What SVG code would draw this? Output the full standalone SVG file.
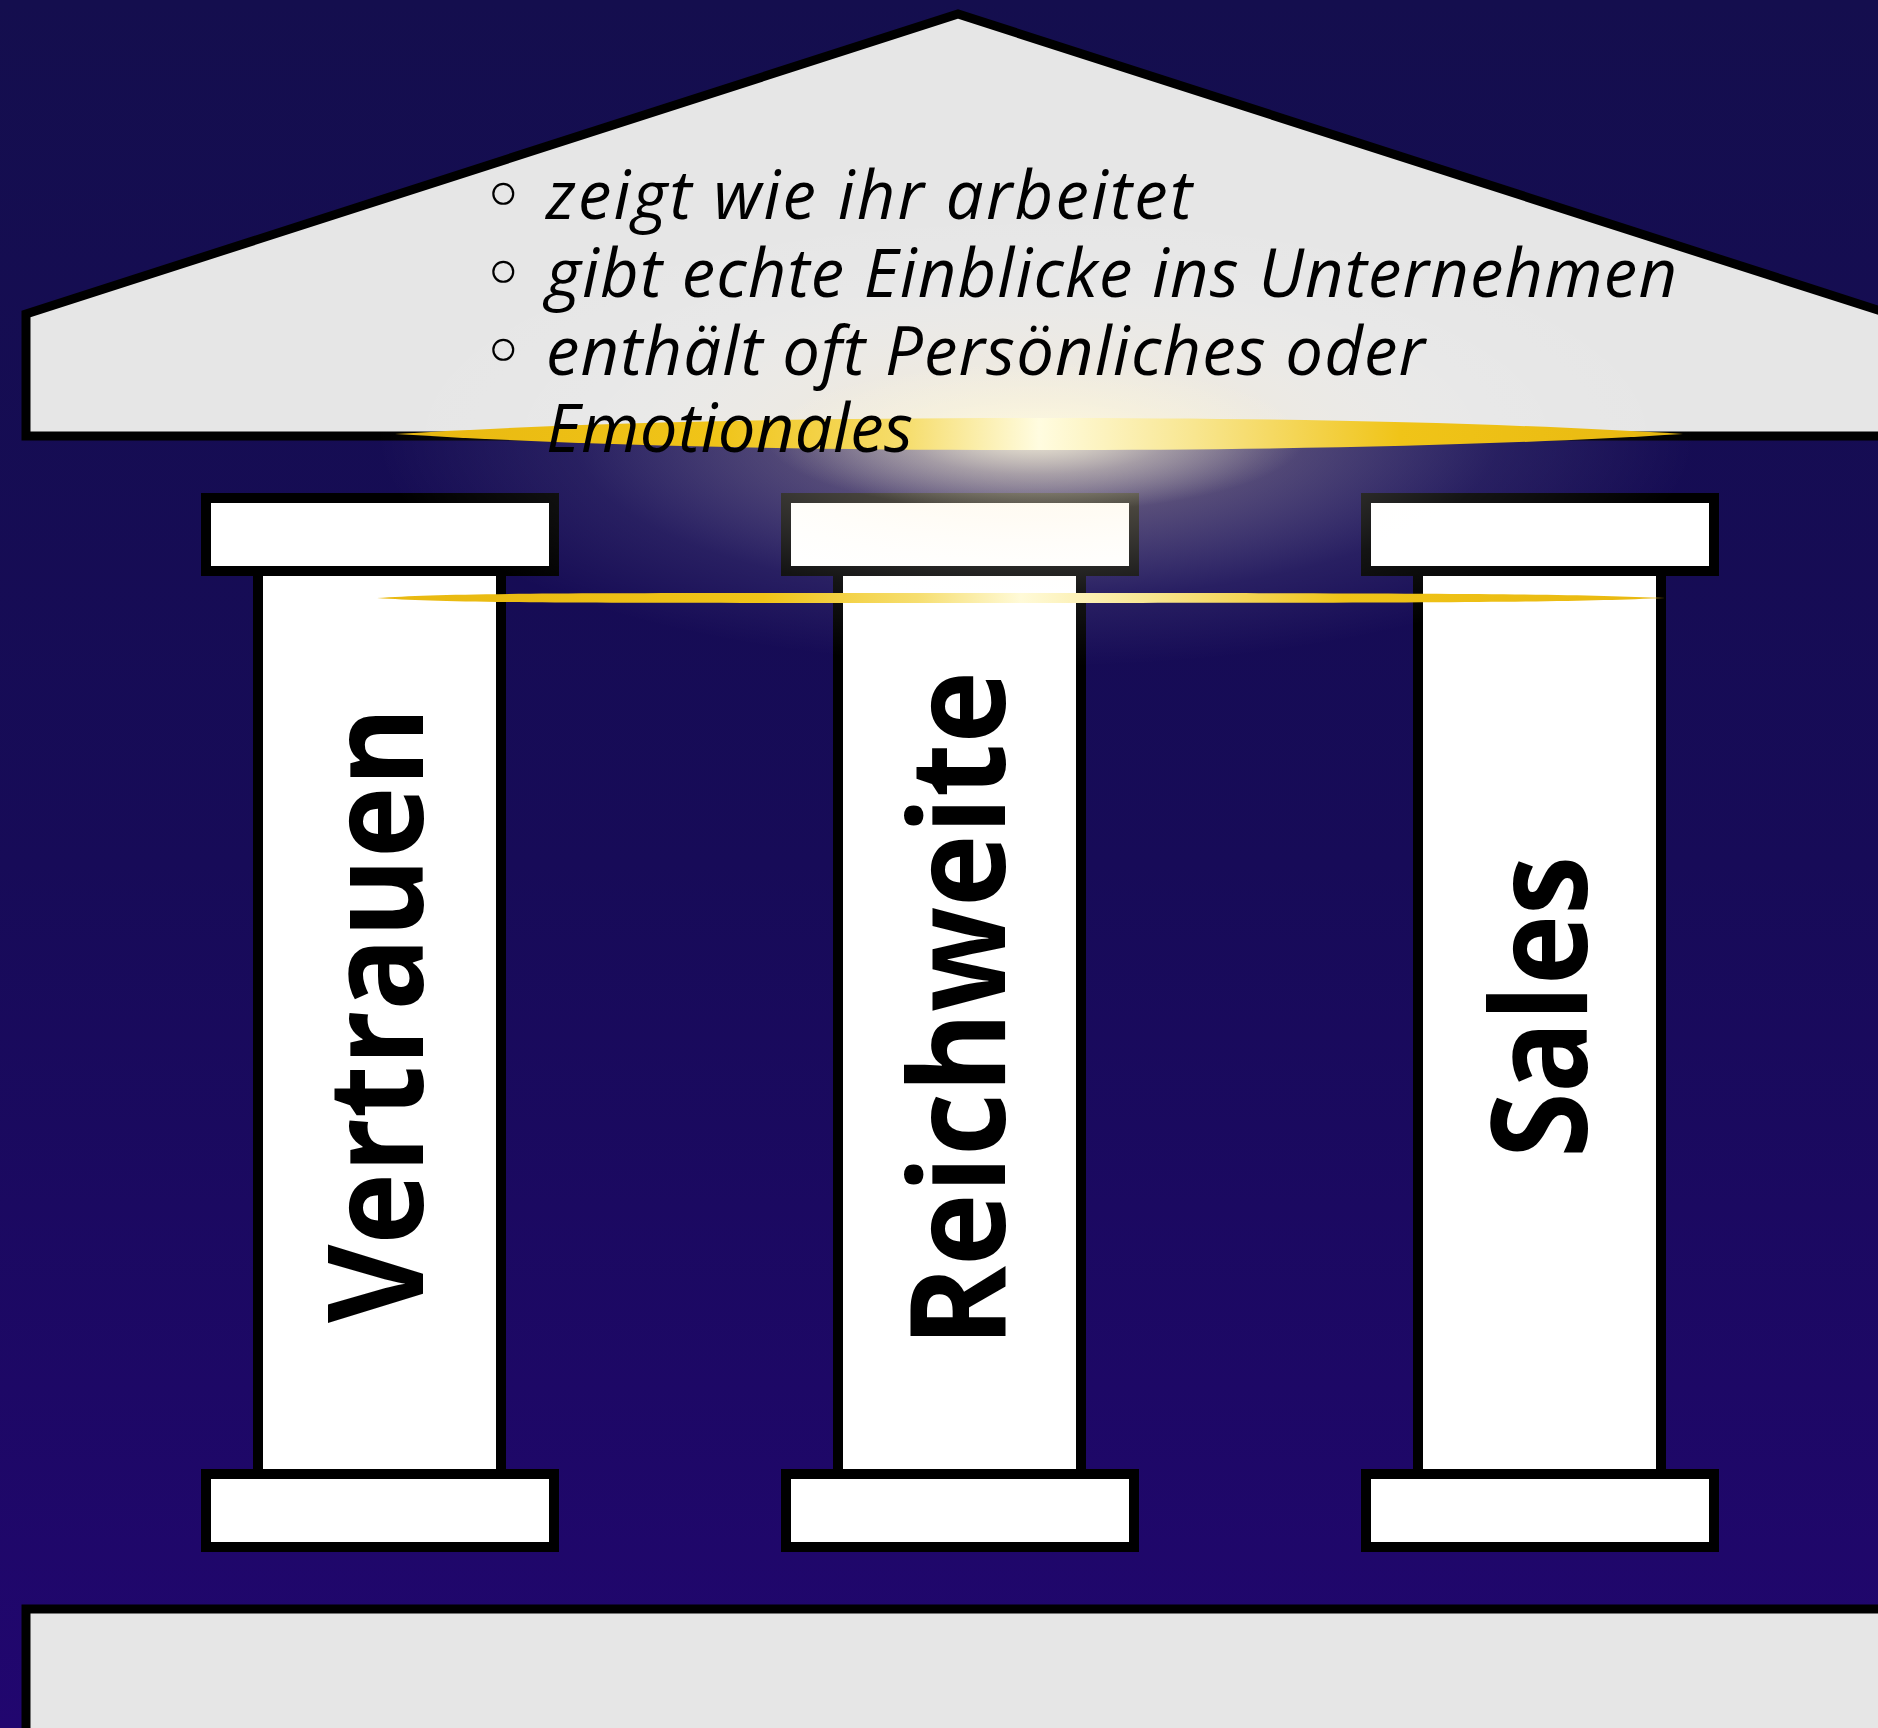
<svg xmlns="http://www.w3.org/2000/svg" width="1878" height="1728" viewBox="0 0 1878 1728">
  <defs>
    <linearGradient id="bg" x1="0" y1="0" x2="0" y2="1">
      <stop offset="0" stop-color="#140e4e"/>
      <stop offset="0.5" stop-color="#170b58"/>
      <stop offset="1" stop-color="#21066f"/>
    </linearGradient>
    <radialGradient id="halo" cx="0.5" cy="0.5" r="0.5">
      <stop offset="0" stop-color="#fff6dc" stop-opacity="0.55"/>
      <stop offset="0.35" stop-color="#fff2d8" stop-opacity="0.28"/>
      <stop offset="0.7" stop-color="#ffffff" stop-opacity="0.08"/>
      <stop offset="1" stop-color="#ffffff" stop-opacity="0"/>
    </radialGradient>
    <radialGradient id="core" cx="0.5" cy="0.5" r="0.5">
      <stop offset="0" stop-color="#fffbe2" stop-opacity="0.85"/>
      <stop offset="0.5" stop-color="#fff8d8" stop-opacity="0.35"/>
      <stop offset="1" stop-color="#fff8d8" stop-opacity="0"/>
    </radialGradient>
    <linearGradient id="flare1" x1="395" y1="0" x2="1683" y2="0" gradientUnits="userSpaceOnUse">
      <stop offset="0" stop-color="#e8b810"/>
      <stop offset="0.25" stop-color="#f0c418"/>
      <stop offset="0.4" stop-color="#f6de70"/>
      <stop offset="0.5" stop-color="#fffce0"/>
      <stop offset="0.62" stop-color="#f8e690"/>
      <stop offset="0.78" stop-color="#f0c418"/>
      <stop offset="1" stop-color="#e8b810"/>
    </linearGradient>
    <linearGradient id="flare2" x1="377" y1="0" x2="1665" y2="0" gradientUnits="userSpaceOnUse">
      <stop offset="0" stop-color="#e8b810"/>
      <stop offset="0.3" stop-color="#f0c418"/>
      <stop offset="0.42" stop-color="#f6de70"/>
      <stop offset="0.5" stop-color="#fffad8"/>
      <stop offset="0.6" stop-color="#f8e690"/>
      <stop offset="0.75" stop-color="#f0c418"/>
      <stop offset="1" stop-color="#e8b810"/>
    </linearGradient>
  </defs>
  <style>
    .edge { stroke: #000000; stroke-width: 9; stroke-linejoin: miter; }
    .stone { fill: #e6e6e6; }
    .marble { fill: #ffffff; stroke: #000000; stroke-width: 10; }
    .label { font-family: "Open Sans", "DejaVu Sans", sans-serif; font-weight: 700; font-size: 133px; fill: #000000; text-anchor: middle; }
    .item { font-family: "Open Sans", "DejaVu Sans", sans-serif; font-style: italic; font-weight: 500; font-size: 67px; fill: #000000; }
    .bullet { font-family: "DejaVu Sans", sans-serif; font-style: normal; font-size: 76px; }
  </style>

  <rect x="0" y="0" width="1878" height="1728" fill="url(#bg)"/>

  <g id="roof">
    <polygon class="stone edge" points="26,314 958,14 1890,314 1890,436 26,436"/>
  </g>

  <g id="foundation">
    <rect class="stone edge" x="26" y="1609" width="1900" height="200"/>
  </g>

  <g id="pillar-vertrauen">
    <rect class="marble" x="258" y="571" width="243" height="903"/>
    <rect class="marble" x="206" y="498" width="348" height="73"/>
    <rect class="marble" x="206" y="1474" width="348" height="73"/>
    <text class="label" x="423" y="1015" textLength="616" lengthAdjust="spacingAndGlyphs" transform="rotate(-90 423 1015)">Vertrauen</text>
  </g>

  <g id="pillar-reichweite">
    <rect class="marble" x="838" y="571" width="243" height="903"/>
    <rect class="marble" x="786" y="498" width="348" height="73"/>
    <rect class="marble" x="786" y="1474" width="348" height="73"/>
    <text class="label" x="1005" y="1009" textLength="676" lengthAdjust="spacingAndGlyphs" transform="rotate(-90 1005 1009)">Reichweite</text>
  </g>

  <g id="pillar-sales">
    <rect class="marble" x="1418" y="571" width="243" height="903"/>
    <rect class="marble" x="1366" y="498" width="348" height="73"/>
    <rect class="marble" x="1366" y="1474" width="348" height="73"/>
    <text class="label" x="1587" y="1007" textLength="302" lengthAdjust="spacingAndGlyphs" transform="rotate(-90 1587 1007)">Sales</text>
  </g>

  <g id="light">
    <ellipse cx="1036" cy="437" rx="660" ry="230" fill="url(#halo)"/>
    <ellipse cx="1036" cy="437" rx="270" ry="75" fill="url(#core)"/>
    <path d="M395,434 C560,424 760,418 1040,418 C1320,418 1520,424 1683,434 C1520,444 1320,450 1040,450 C760,450 560,444 395,434 Z" fill="url(#flare1)"/>
    <path d="M377,598 C450,593 540,593 1020,593 C1480,593 1570,594 1665,598 C1570,602 1480,603 1020,603 C540,603 450,603 377,598 Z" fill="url(#flare2)"/>
  </g>

  <g id="roof-text">
    <text class="item"><tspan class="bullet" x="481" y="222">◦</tspan><tspan x="546" y="219" textLength="646" lengthAdjust="spacing">zeigt wie ihr arbeitet</tspan><tspan class="bullet" x="481" y="300">◦</tspan><tspan x="546" y="297" textLength="1131" lengthAdjust="spacing">gibt echte Einblicke ins Unternehmen</tspan><tspan class="bullet" x="481" y="378">◦</tspan><tspan x="546" y="375" textLength="879" lengthAdjust="spacing">enthält oft Persönliches oder</tspan><tspan x="546" y="452" textLength="367" lengthAdjust="spacing">Emotionales</tspan></text>
  </g>
</svg>
